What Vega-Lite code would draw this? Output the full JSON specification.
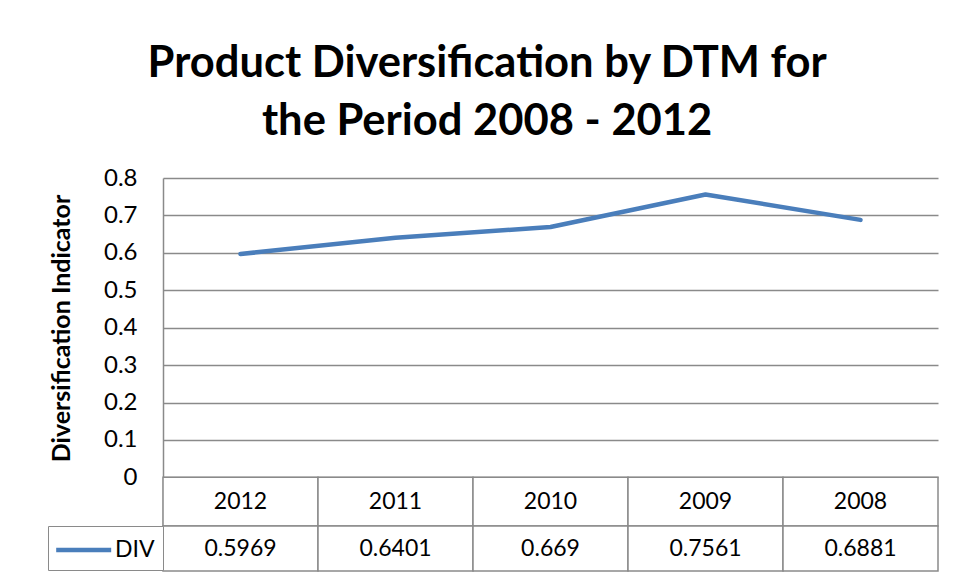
{
  "$schema": "https://vega.github.io/schema/vega-lite/v6.json",
  "background": "white",
  "padding": {"left": 47, "top": 41, "right": 5, "bottom": 5},
  "config": {
    "view": {"stroke": null},
    "font": "Lato"
  },
  "title": {
    "text": ["Product Diversification by DTM for", "the Period 2008 - 2012"],
    "font": "Lato",
    "fontSize": 43.5,
    "fontWeight": "bold",
    "lineHeight": 58,
    "anchor": "middle",
    "color": "black",
    "offset": 22,
    "dx": -6
  },
  "data": {
    "values": [
      {"year": "2012", "div": 0.5969},
      {"year": "2011", "div": 0.6401},
      {"year": "2010", "div": 0.669},
      {"year": "2009", "div": 0.7561},
      {"year": "2008", "div": 0.6881}
    ]
  },
  "spacing": 0,
  "bounds": "flush",
  "resolve": {"legend": {"stroke": "independent"}, "scale": {"stroke": "independent"}},
  "vconcat": [
    {
      "width": 775,
      "height": 348,
      "encoding": {
        "x": {
          "field": "year",
          "type": "ordinal",
          "sort": null,
          "scale": {"type": "band", "paddingInner": 0, "paddingOuter": 0},
          "axis": null
        }
      },
      "layer": [
        {
          "mark": {"type": "rect", "fill": "white", "stroke": "#8a8a8a", "strokeWidth": 1.5},
          "encoding": {
            "y": {"datum": -0.13, "type": "quantitative"},
            "y2": {"datum": 0}
          }
        },
        {
          "mark": {"type": "text", "fontSize": 23, "font": "Lato", "color": "black"},
          "encoding": {
            "y": {"datum": -0.065, "type": "quantitative"},
            "text": {"field": "year"}
          }
        },
        {
          "mark": {"type": "line", "color": "#4A7EBB", "strokeWidth": 4.5, "strokeCap": "round", "strokeJoin": "round"},
          "encoding": {
            "y": {
              "field": "div",
              "type": "quantitative",
              "scale": {"domain": [-0.13, 0.8], "nice": false, "zero": false},
              "axis": {
                "values": [0, 0.1, 0.2, 0.3, 0.4, 0.5, 0.6, 0.7, 0.8],
                "format": ".1~f",
                "grid": true,
                "gridColor": "#8a8a8a",
                "gridWidth": 1.5,
                "domain": true,
                "domainColor": "#8a8a8a",
                "domainWidth": 1.5,
                "ticks": false,
                "labelPadding": 26,
                "labelFont": "Lato",
                "labelFontSize": 24,
                "labelColor": "black",
                "title": "Diversification Indicator",
                "titleFont": "Lato",
                "titleFontSize": 25,
                "titleFontWeight": "bold",
                "titleColor": "black",
                "titlePadding": 29,
                "titleY": 150
              }
            }
          }
        }
      ]
    },
    {
      "width": 775,
      "height": 45,
      "encoding": {
        "x": {
          "field": "year",
          "type": "ordinal",
          "sort": null,
          "scale": {"type": "band", "paddingInner": 0, "paddingOuter": 0},
          "axis": null
        }
      },
      "layer": [
        {
          "mark": {"type": "rect", "fill": "white", "stroke": "#8a8a8a", "strokeWidth": 1.5}
        },
        {
          "mark": {"type": "text", "fontSize": 23, "font": "Lato", "color": "black"},
          "encoding": {
            "text": {"field": "div", "type": "quantitative", "format": "~g"}
          }
        },
        {
          "mark": {"type": "line", "opacity": 0},
          "encoding": {
            "stroke": {
              "datum": "DIV",
              "scale": {"range": ["#4A7EBB"]},
              "legend": {
                "orient": "left",
                "offset": 0,
                "title": null,
                "symbolType": "M-1.15,0H2.85",
                "symbolSize": 756,
                "symbolStrokeWidth": 4.5,
                "symbolOpacity": 1,
                "labelFont": "Lato",
                "labelFontSize": 23,
                "labelColor": "black",
                "labelOffset": 27,
                "padding": 8,
                "strokeColor": "#8a8a8a",
                "fillColor": "white"
              }
            }
          }
        }
      ]
    }
  ]
}
